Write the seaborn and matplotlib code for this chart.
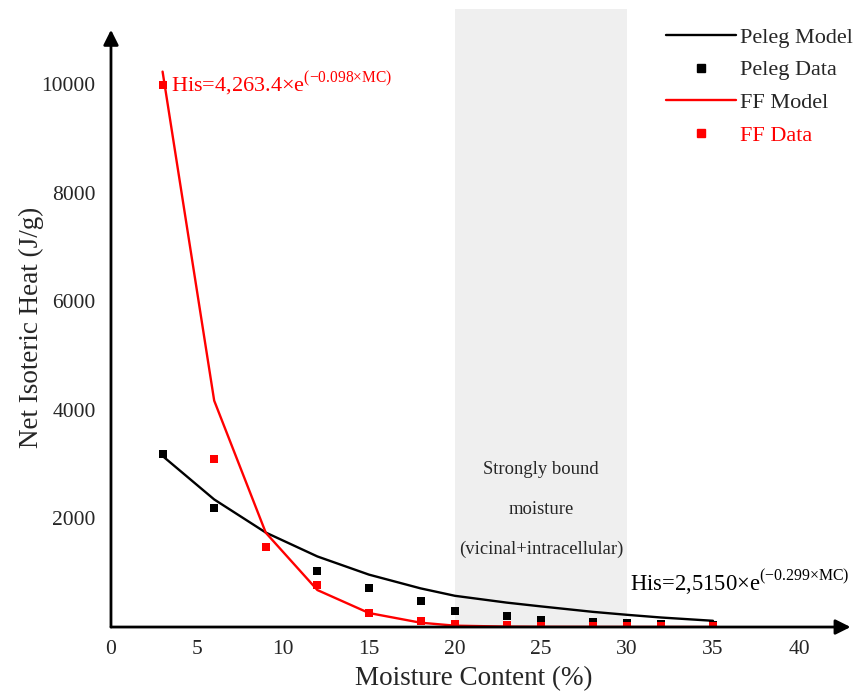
import matplotlib
matplotlib.use("Agg")
import matplotlib.pyplot as plt
import seaborn as sns
import pandas as pd
from matplotlib.lines import Line2D

# Moisture content grid (%)
mc_model = [3, 6, 9, 12, 15, 18, 20, 23, 25, 28, 30, 32, 35]
# Fitted net isosteric heat (J/g)
peleg_model = [3150, 2350, 1740, 1300, 965, 712, 575, 450, 380, 280, 225, 175, 115]
ff_model = [10230, 4170, 1737, 681, 258, 80, 25, 8, 4, 2, 1, 1, 0]

# Experimental points
mc_peleg = [3, 6, 12, 15, 18, 20, 23, 25, 28, 30, 32, 35]
peleg_data = [3180, 2190, 1030, 725, 480, 300, 200, 125, 90, 75, 50, 30]
mc_ff = [3, 6, 9, 12, 15, 18, 20, 23, 25, 28, 30, 32, 35]
ff_data = [9980, 3090, 1475, 775, 265, 120, 60, 30, 20, 15, 15, 15, 15]

x_ticks = [0, 5, 10, 15, 20, 25, 30, 35, 40]
y_ticks = [2000, 4000, 6000, 8000, 10000]

sns.set_style("white")
plt.rcParams["font.family"] = ["Liberation Serif", "DejaVu Serif"]
plt.rcParams["mathtext.fontset"] = "custom"
plt.rcParams["mathtext.rm"] = "Liberation Serif"

RED = "#ff0000"

fig = plt.figure(figsize=(8.57, 6.95), dpi=100)
ax = fig.add_axes([0.1295, 0.0978, 0.863, 0.889])
ax.set_xlim(0, 43)
ax.set_ylim(0, 11380)

# bound-moisture band
ax.axvspan(20, 30, color="#efefef", zorder=0, lw=0)
ax.text(25, 2900, "Strongly bound", ha="center", va="center", fontsize=13.4)
ax.text(25, 2170, "moisture", ha="center", va="center", fontsize=13.4)
ax.text(25, 1430, "(vicinal+intracellular)", ha="center", va="center", fontsize=13.4)

models = pd.DataFrame({"mc": mc_model, "peleg": peleg_model, "ff": ff_model})
sns.lineplot(data=models, x="mc", y="peleg", color="black", lw=1.7, ax=ax, zorder=3)
sns.lineplot(data=models, x="mc", y="ff", color=RED, lw=1.7, ax=ax, zorder=3)

pd_df = pd.DataFrame({"mc": mc_peleg, "val": peleg_data})
ff_df = pd.DataFrame({"mc": mc_ff, "val": ff_data})
sns.scatterplot(data=pd_df, x="mc", y="val", color="black", marker="s", s=40,
                linewidth=0, ax=ax, zorder=4)
sns.scatterplot(data=ff_df, x="mc", y="val", color=RED, marker="s", s=40,
                linewidth=0, ax=ax, zorder=5)

# arrowed axes
for s in ax.spines.values():
    s.set_visible(False)
ax.annotate("", xy=(43, 0), xytext=(0, 0),
            arrowprops=dict(arrowstyle="-|>,head_length=0.9,head_width=0.45",
                            color="black", lw=2, shrinkA=0, shrinkB=0),
            zorder=6, annotation_clip=False)
ax.annotate("", xy=(0, 11000), xytext=(0, 0),
            arrowprops=dict(arrowstyle="-|>,head_length=0.9,head_width=0.45",
                            color="black", lw=2, shrinkA=0, shrinkB=0),
            zorder=6, annotation_clip=False)

ax.set_xticks(x_ticks)
ax.set_yticks(y_ticks)
ax.set_xticklabels([str(t) for t in x_ticks])
ax.set_yticklabels([str(t) for t in y_ticks])
ax.tick_params(axis="both", length=0, labelsize=15.5)
ax.tick_params(axis="x", pad=9)
ax.tick_params(axis="y", pad=11)

ax.set_xlabel("Moisture Content (%)", fontsize=19.5)
ax.set_ylabel("Net Isoteric Heat (J/g)", fontsize=19.5)
ax.xaxis.set_label_coords(0.49, -0.064)
ax.yaxis.set_label_coords(-0.091, 0.485)

# model equations
ax.text(3.5, 10000, "His=4,263.4×e$^{\\mathregular{(−0.098×MC)}}$", color=RED,
        fontsize=16, va="center", ha="left")
ax.text(30.2, 830, "His=2,5150×e$^{\\mathregular{(−0.299×MC)}}$", color="black",
        fontsize=16.3, va="center", ha="left")

handles = [
    Line2D([], [], color="black", lw=1.7),
    Line2D([], [], color="black", marker="s", ls="none", markersize=6),
    Line2D([], [], color=RED, lw=1.7),
    Line2D([], [], color=RED, marker="s", ls="none", markersize=6),
]
labels = ["Peleg Model", "Peleg Data", "FF Model", "FF Data"]
leg = ax.legend(handles, labels, loc="upper right", bbox_to_anchor=(1.0265, 1.0),
                frameon=False, fontsize=16, handlelength=3.15, handletextpad=0.14,
                labelspacing=0.55, borderaxespad=0.4)
leg.get_texts()[3].set_color(RED)

ax.grid(False)
fig.savefig("out.png", dpi=100)
